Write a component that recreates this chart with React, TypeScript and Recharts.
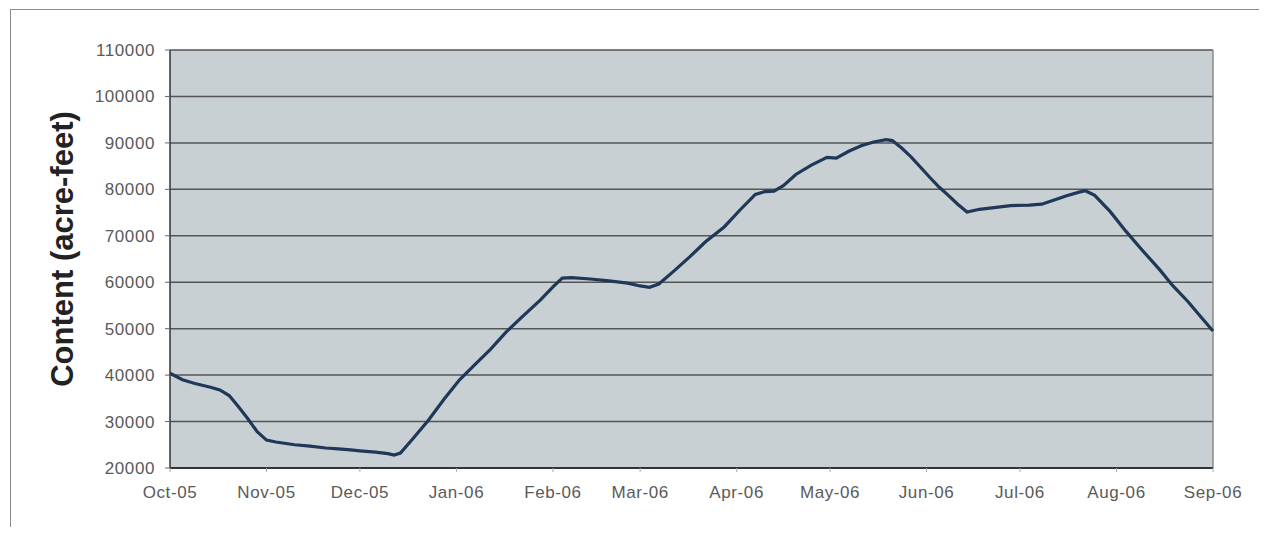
import React from 'react';
import { LineChart, Line, XAxis, YAxis, CartesianGrid, ReferenceLine } from 'recharts';

// Reservoir content, water year Oct 2005 - Sep 2006
// day = days since 1 Oct 2005
const days = [
  0, 4, 8, 13, 16, 19, 22, 25, 28, 31, 34, 40, 45, 50, 54, 58, 61, 66, 70, 72, 74, 78, 83, 88,
  93, 98, 103, 108, 113, 119, 123, 126, 129, 135, 141, 147, 151, 154, 157, 162, 167, 172, 178,
  183, 188, 191, 194, 197, 201, 206, 211, 214, 218, 222, 226, 230, 232, 235, 238, 241, 244, 247,
  250, 253, 256, 260, 264, 270, 276, 280, 284, 288, 292, 294, 297, 302, 307, 312, 318, 322, 327,
  331, 335,
];

const content = [
  40400, 39000, 38200, 37400, 36800, 35600, 33200, 30600, 27800, 26000, 25600, 25000, 24700,
  24300, 24100, 23900, 23700, 23400, 23100, 22800, 23200, 26300, 30300, 34800, 39000, 42300,
  45600, 49300, 52500, 56200, 59000, 60900, 61000, 60700, 60300, 59800, 59200, 58900, 59600,
  62500, 65500, 68700, 71900, 75500, 78900, 79500, 79600, 80800, 83200, 85200, 86900, 86700,
  88200, 89400, 90200, 90700, 90500, 88900, 87000, 84800, 82600, 80500, 78700, 76800, 75100,
  75700, 76000, 76500, 76600, 76800, 77700, 78600, 79400, 79700, 78700, 75200, 71000, 67100,
  62600, 59300, 55800, 52600, 49500,
];

// month starts (days since 1 Oct 2005) and their labels
const monthDays = [0, 31, 61, 92, 123, 151, 182, 212, 243, 273, 304, 335];
const monthLabels = [
  'Oct-05', 'Nov-05', 'Dec-05', 'Jan-06', 'Feb-06', 'Mar-06',
  'Apr-06', 'May-06', 'Jun-06', 'Jul-06', 'Aug-06', 'Sep-06',
];

const yTicks = [20000, 30000, 40000, 50000, 60000, 70000, 80000, 90000, 100000, 110000];

const data = days.map((d, i) => ({ day: d, content: content[i] }));

const FONT = '"Liberation Sans", Arial, Helvetica, sans-serif';
const tickStyle = { fontSize: 17, fill: '#5a5a5a', fontFamily: FONT, letterSpacing: 0.6 };

const YTitle = ({ viewBox }: any) => {
  const x = viewBox.x + 54;
  const y = viewBox.y + viewBox.height / 2 - 10;
  return (
    <text
      x={x}
      y={y}
      transform={`rotate(-90, ${x}, ${y})`}
      textAnchor="middle"
      dominantBaseline="central"
      style={{ fontSize: 31, fontWeight: 'bold', fill: '#222', fontFamily: FONT }}
    >
      Content (acre-feet)
    </text>
  );
};

const App: React.FC = () => {
  const monthLabel = (v: number) => {
    const i = monthDays.indexOf(v);
    return i >= 0 ? monthLabels[i] : '';
  };

  return (
    <div style={{ position: 'relative', width: 1251, height: 519, fontFamily: FONT }}>
      <div
        style={{
          position: 'absolute',
          left: 2,
          top: 1,
          width: 1256,
          height: 520,
          borderLeft: '1px solid #8c8c8c',
          borderTop: '1px solid #8c8c8c',
          borderBottom: '1px solid #b0b0b0',
          boxSizing: 'border-box',
        }}
      />
      <LineChart
        width={1251}
        height={519}
        data={data}
        margin={{ top: 42, right: 46, left: 0, bottom: 0 }}
        style={{ position: 'absolute', left: 0, top: 0 }}
      >
        <CartesianGrid
          vertical={false}
          fill="#c8d0d3"
          fillOpacity={1}
          stroke="#555"
          strokeWidth={1.5}
        />
        <XAxis
          type="number"
          dataKey="day"
          domain={[0, 335]}
          ticks={monthDays}
          tickFormatter={monthLabel}
          interval={0}
          height={59}
          tickSize={4}
          tickMargin={14}
          tick={tickStyle}
          tickLine={{ stroke: '#aaa' }}
          axisLine={{ stroke: '#333', strokeWidth: 2 }}
        />
        <YAxis
          type="number"
          domain={[20000, 110000]}
          ticks={yTicks}
          interval={0}
          width={162}
          tickSize={5}
          tickMargin={10}
          tick={tickStyle}
          tickLine={{ stroke: '#666' }}
          axisLine={{ stroke: '#333', strokeWidth: 1.5 }}
          label={<YTitle />}
        />
        <ReferenceLine x={335} stroke="#8a8a8a" strokeWidth={1.5} />
        <Line
          type="linear"
          dataKey="content"
          stroke="#1f3858"
          strokeWidth={3.2}
          dot={false}
          isAnimationActive={false}
        />
      </LineChart>
    </div>
  );
};

export default App;
